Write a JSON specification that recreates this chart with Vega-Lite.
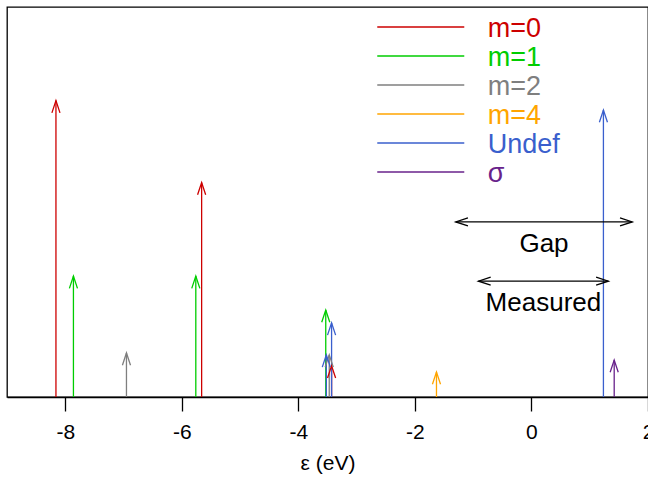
{
  "$schema": "https://vega.github.io/schema/vega-lite/v6.json",
  "width": 641,
  "height": 390,
  "autosize": {"type": "none"},
  "padding": {"left": 7, "top": 7, "right": 0, "bottom": 81},
  "background": "white",
  "config": {"view": {"stroke": "black", "strokeWidth": 1.3}, "font": "Liberation Sans"},
  "datasets": {
    "spikes": [
      {"e": -8.16, "h": 0.76, "s": "m=0"},
      {"e": -7.86, "h": 0.31, "s": "m=1"},
      {"e": -6.95, "h": 0.113, "s": "m=2"},
      {"e": -5.76, "h": 0.31, "s": "m=1"},
      {"e": -5.66, "h": 0.55, "s": "m=0"},
      {"e": -3.53, "h": 0.223, "s": "m=1"},
      {"e": -3.43, "h": 0.08, "s": "m=0"},
      {"e": -3.47, "h": 0.108, "s": "m=2"},
      {"e": -3.52, "h": 0.108, "s": "Undef"},
      {"e": -3.43, "h": 0.19, "s": "Undef"},
      {"e": -1.63, "h": 0.064, "s": "m=4"},
      {"e": 1.235, "h": 0.736, "s": "Undef"},
      {"e": 1.42, "h": 0.095, "s": "σ"}
    ],
    "ranges": [
      {"label": "Gap", "lo": -1.30, "hi": 1.73, "mid": 0.215, "level": 0.449},
      {"label": "Measured", "lo": -0.91, "hi": 1.32, "mid": 0.205, "level": 0.297}
    ],
    "legend": [
      {"s": "m=0"}, {"s": "m=1"}, {"s": "m=2"}, {"s": "m=4"}, {"s": "Undef"}, {"s": "σ"}
    ]
  },
  "resolve": {"scale": {"y": "independent"}},
  "layer": [
    {
      "layer": [
        {
          "data": {"name": "spikes"},
          "mark": {"type": "rule", "strokeWidth": 1.3},
          "encoding": {
            "x": {
              "field": "e", "type": "quantitative",
              "scale": {"domain": [-9, 2], "nice": false, "zero": false},
              "axis": {
                "values": [-8, -6, -4, -2, 0, 2], "grid": false,
                "labelExpr": "'' + datum.value",
                "domainColor": "black", "domainWidth": 1.3,
                "tickColor": "black", "tickSize": 14, "tickWidth": 1.3,
                "labelFontSize": 21, "labelColor": "black", "labelPadding": 10,
                "labelFlush": false, "labelOverlap": false,
                "title": "ε (eV)", "titleFontSize": 21, "titleFontWeight": "normal",
                "titleColor": "black", "titlePadding": 10
              }
            },
            "y": {"field": "h", "type": "quantitative", "scale": {"domain": [0, 1], "nice": false}, "axis": null},
            "y2": {"datum": 0},
            "color": {
              "field": "s", "type": "nominal",
              "scale": {
                "domain": ["m=0", "m=1", "m=2", "m=4", "Undef", "σ"],
                "range": ["#CD0000", "#00CD00", "#7F7F7F", "#FFA500", "#3A5FCD", "#68228B"]
              },
              "legend": null
            }
          }
        },
        {
          "data": {"name": "spikes"},
          "mark": {"type": "point", "shape": "M-0.33,1L0,0L0.33,1", "filled": false, "size": 600, "strokeWidth": 1.3, "opacity": 1},
          "encoding": {
            "x": {"field": "e", "type": "quantitative"},
            "y": {"field": "h", "type": "quantitative", "scale": {"domain": [0, 1], "nice": false}},
            "color": {"field": "s", "type": "nominal", "legend": null}
          }
        },
        {
          "data": {"name": "ranges"},
          "mark": {"type": "rule", "strokeWidth": 1.3, "color": "black"},
          "encoding": {
            "x": {"field": "lo", "type": "quantitative"},
            "x2": {"field": "hi"},
            "y": {"field": "level", "type": "quantitative"}
          }
        },
        {
          "data": {"name": "ranges"},
          "mark": {"type": "point", "shape": "M-0.33,1L0,0L0.33,1", "filled": false, "size": 600, "strokeWidth": 1.3, "opacity": 1, "color": "black", "angle": 270},
          "encoding": {
            "x": {"field": "lo", "type": "quantitative"},
            "y": {"field": "level", "type": "quantitative"}
          }
        },
        {
          "data": {"name": "ranges"},
          "mark": {"type": "point", "shape": "M-0.33,1L0,0L0.33,1", "filled": false, "size": 600, "strokeWidth": 1.3, "opacity": 1, "color": "black", "angle": 90},
          "encoding": {
            "x": {"field": "hi", "type": "quantitative"},
            "y": {"field": "level", "type": "quantitative"}
          }
        },
        {
          "data": {"name": "ranges"},
          "mark": {"type": "text", "align": "center", "baseline": "middle", "fontSize": 26, "dy": 22, "color": "black"},
          "encoding": {
            "x": {"field": "mid", "type": "quantitative"},
            "y": {"field": "level", "type": "quantitative"},
            "text": {"field": "label"}
          }
        }
      ]
    },
    {
      "layer": [
        {
          "data": {"name": "legend"},
          "mark": {"type": "rule", "strokeWidth": 1.3},
          "encoding": {
            "x": {"datum": -2.646, "type": "quantitative"},
            "x2": {"datum": -1.153},
            "y": {"field": "s", "type": "nominal", "sort": null,
                  "scale": {"type": "point", "padding": 0, "domain": ["m=0", "m=1", "m=2", "m=4", "Undef", "σ"], "range": [20, 165]},
                  "axis": null},
            "color": {"field": "s", "type": "nominal", "legend": null}
          }
        },
        {
          "data": {"name": "legend"},
          "mark": {"type": "text", "align": "left", "baseline": "middle", "fontSize": 27, "dy": 2},
          "encoding": {
            "x": {"datum": -0.75, "type": "quantitative"},
            "y": {"field": "s", "type": "nominal", "sort": null},
            "text": {"field": "s"},
            "color": {"field": "s", "type": "nominal", "legend": null}
          }
        }
      ]
    }
  ]
}
